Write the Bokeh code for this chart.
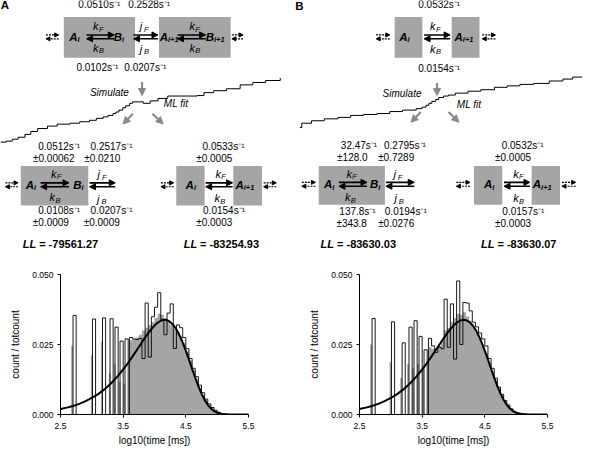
from bokeh.plotting import figure
from bokeh.layouts import column, row
from bokeh.models import Range1d, ColumnDataSource, Arrow, NormalHead, FixedTicker, PrintfTickFormatter
from bokeh.core.properties import value, field
from bokeh.embed import file_html
from bokeh.resources import INLINE

# ---------------- data ----------------
# rate labels of the schemes
rate_top_A = ["0.0510s⁻¹", "0.2528s⁻¹", "0.0102s⁻¹", "0.0207s⁻¹"]
rate_top_B = ["0.0532s⁻¹", "0.0154s⁻¹"]
fit4_A = ["0.0512s⁻¹", "±0.00062", "0.2517s⁻¹", "±0.0210", "0.0108s⁻¹", "±0.0009", "0.0207s⁻¹", "±0.0009"]
fit2_A = ["0.0533s⁻¹", "±0.0005", "0.0154s⁻¹", "±0.0003"]
fit4_B = ["32.47s⁻¹", "±128.0", "0.2795s⁻¹", "±0.7289", "137.8s⁻¹", "±343.8", "0.0194s⁻¹", "±0.0276"]
fit2_B = ["0.0532s⁻¹", "±0.0005", "0.0157s⁻¹", "±0.0003"]
loglik = ["-79561.27", "-83254.93", "-83630.03", "-83630.07"]

# simulated traces (diagram units)
trace_A_x = [2, 8, 14, 20, 27, 33, 40, 50, 60, 73, 83, 93, 100, 107, 112, 117, 120, 123, 127, 130,
             134, 137, 143, 148, 155, 163, 173, 187, 203, 210, 220, 233, 247, 260, 273, 288]
trace_A_y = [148, 147, 145, 143, 140, 137, 134, 131.5, 129.5, 128.5, 127, 125.5, 123.5, 122, 120.5, 118.5,
             117, 115, 112.5, 110.5, 108, 106.5, 106.5, 108, 105.5, 103, 100.5, 100.5, 100, 97, 95, 93,
             89, 86.5, 84.5, 82]
trace_B_x = [308, 310, 320, 333, 347, 360, 373, 387, 400, 413, 427, 433, 437, 440, 443, 447, 450, 455,
             460, 467, 480, 493, 507, 520, 533, 547, 563, 577, 587, 597]
trace_B_y = [133, 128.5, 126, 124, 122.5, 120.5, 119.5, 118.5, 116.5, 115, 113.5, 112, 110, 108, 106,
             104, 102, 100.5, 99.5, 97.5, 95.5, 94, 91.5, 90, 88.5, 87.5, 85, 83, 81, 79.5]

# histograms: log10(time [ms]) bin left edges and count / totcount
bin_w = 0.05
out_A_left = [2.70, 3.01, 3.17, 3.29, 3.37, 3.45, 3.53,
              3.60, 3.65, 3.70, 3.75, 3.80, 3.85, 3.90, 3.95, 4.00, 4.05, 4.10, 4.15, 4.20, 4.25,
              4.30, 4.35, 4.40, 4.45, 4.50, 4.55, 4.60, 4.65, 4.70, 4.75, 4.80, 4.85, 4.90, 4.95, 5.00, 5.05]
out_A_h = [0.0354, 0.0341, 0.0345, 0.0342, 0.0312, 0.0262, 0.0270,
           0.0275, 0.0270, 0.0268, 0.0272, 0.0200, 0.0398, 0.0205, 0.0349, 0.0383, 0.0435, 0.0340,
           0.0285, 0.0362, 0.0395, 0.0236, 0.0320, 0.0310, 0.0275, 0.0235, 0.0200, 0.0165, 0.0135,
           0.0105, 0.0078, 0.0055, 0.0038, 0.0025, 0.0015, 0.0008, 0.0003]
out_B_left = [2.70, 3.01, 3.18, 3.29, 3.37, 3.45, 3.53,
              3.60, 3.65, 3.70, 3.75, 3.80, 3.85, 3.90, 3.95, 4.00, 4.05, 4.10, 4.15, 4.20, 4.25,
              4.30, 4.35, 4.40, 4.45, 4.50, 4.55, 4.60, 4.65, 4.70, 4.75, 4.80, 4.85, 4.90, 4.95, 5.00, 5.05]
out_B_h = [0.0343, 0.0331, 0.0256, 0.0312, 0.0335, 0.0279, 0.0231,
           0.0272, 0.0245, 0.0222, 0.0240, 0.0235, 0.0412, 0.0240, 0.0395, 0.0198, 0.0477, 0.0250,
           0.0400, 0.0398, 0.0370, 0.0330, 0.0313, 0.0291, 0.0270, 0.0245, 0.0200, 0.0165, 0.0130,
           0.0098, 0.0072, 0.0050, 0.0034, 0.0020, 0.0010, 0.0004, 0.0002]

gray_spike_w = 0.03
gray_A_left = [2.67, 2.985, 3.145, 3.27, 3.35, 3.43, 3.505]
gray_A_h = [0.0245, 0.0212, 0.0260, 0.0147, 0.0180, 0.0118, 0.0110]
gray_B_left = [2.67, 2.98, 3.15, 3.26, 3.34, 3.42, 3.50]
gray_B_h = [0.0250, 0.0187, 0.0130, 0.0180, 0.0165, 0.0180, 0.0165]

dense_left = [3.60, 3.65, 3.70, 3.75, 3.80, 3.85, 3.90, 3.95, 4.00, 4.05, 4.10, 4.15, 4.20, 4.25,
              4.30, 4.35, 4.40, 4.45, 4.50, 4.55, 4.60, 4.65, 4.70, 4.75, 4.80, 4.85, 4.90, 4.95, 5.00, 5.05]
gray_A_dense = [0.0265, 0.0270, 0.0275, 0.0285, 0.0300, 0.0310, 0.0320, 0.0330, 0.0345, 0.0360,
                0.0355, 0.0345, 0.0335, 0.0320, 0.0305, 0.0295, 0.0280, 0.0255, 0.0225, 0.0192,
                0.0158, 0.0126, 0.0096, 0.0070, 0.0049, 0.0033, 0.0021, 0.0012, 0.0006, 0.0003]
gray_B_dense = [0.0240, 0.0235, 0.0225, 0.0245, 0.0265, 0.0300, 0.0310, 0.0330, 0.0345, 0.0360,
                0.0355, 0.0365, 0.0350, 0.0335, 0.0310, 0.0290, 0.0270, 0.0245, 0.0220, 0.0185,
                0.0152, 0.0120, 0.0090, 0.0066, 0.0045, 0.0030, 0.0017, 0.0008, 0.0003, 0.0001]

fit_x = [2.5, 2.6, 2.7, 2.8, 2.9, 3.0, 3.1, 3.2, 3.3, 3.4, 3.5, 3.55, 3.6, 3.65, 3.7, 3.75, 3.8, 3.85,
         3.9, 3.95, 4.0, 4.05, 4.1, 4.15, 4.2, 4.25, 4.3, 4.35, 4.4, 4.45, 4.5, 4.55, 4.6, 4.65, 4.7,
         4.75, 4.8, 4.85, 4.9, 4.95, 5.0, 5.1, 5.2, 5.3, 5.4, 5.5]
fit_y = [0.00195, 0.00245, 0.00306, 0.00381, 0.00475, 0.00590, 0.00729, 0.00897, 0.01098, 0.01335,
         0.01607, 0.01756, 0.01912, 0.02075, 0.02242, 0.02413, 0.02582, 0.02748, 0.02906, 0.03051,
         0.03176, 0.03277, 0.03348, 0.03380, 0.03368, 0.03309, 0.03199, 0.03036, 0.02823, 0.02566,
         0.02274, 0.01957, 0.01632, 0.01311, 0.01011, 0.00745, 0.00522, 0.00345, 0.00214, 0.00123,
         0.00066, 0.00014, 0.00002, 0.0, 0.0, 0.0]

x_ticks = [2.5, 3.5, 4.5, 5.5]
y_ticks = [0.0, 0.025, 0.05]

GRAY = "#a5a5a5"
ARROW_GRAY = "#8a8a8a"
FONT = "Liberation Sans"

# ---------------- diagram (top) ----------------
top = figure(width=582, height=258, x_range=Range1d(2, 597), y_range=Range1d(268, 2),
             output_backend="svg", toolbar_location=None, x_axis_type=None, y_axis_type=None,
             min_border=0)
top.outline_line_color = None
top.grid.visible = False

boxes = dict(l=[66.7, 164, 405, 463.3, 22.7, 181.7, 240, 327.3, 486, 545],
             r=[139.5, 237.3, 433.3, 491.7, 91.7, 210.7, 269.3, 395, 515, 574],
             t=[19, 19, 19, 19, 172.7, 172.7, 172.7, 172.7, 172.7, 172.7],
             b=[61, 61, 61, 61, 213.3, 213.3, 213.3, 212.7, 212.7, 212.7])
top.quad(left="l", right="r", top="t", bottom="b", source=ColumnDataSource(boxes),
         fill_color=GRAY, line_color=None)

top.step(trace_A_x, trace_A_y, mode="after", line_color="black", line_width=1)
top.step(trace_B_x, trace_B_y, mode="after", line_color="black", line_width=1)

# arrows
main_pairs = [(90, 118.3, 39.5), (138, 163, 39.5), (183, 211.7, 39.5), (435, 461.7, 39.5),
              (43, 72, 192), (93, 119.3, 192), (211.7, 239.3, 192),
              (348, 376.7, 191.5), (396, 425, 191.5), (516.7, 543.3, 191.5)]
edge_pairs = [(48.5, 61.5, 39.5), (238.5, 250, 39.5), (386, 400, 39.5), (494.5, 508, 39.5),
              (7, 20, 192), (166, 179, 192), (271, 284, 192),
              (310, 324, 191.5), (468, 482, 191.5), (576, 590, 191.5)]

def pair_src(pairs):
    d = dict(x0=[], y0=[], x1=[], y1=[])
    for a, b, yc in pairs:
        d["x0"] += [a, b]
        d["x1"] += [b, a]
        d["y0"] += [yc - 2, yc + 2]
        d["y1"] += [yc - 2, yc + 2]
    return ColumnDataSource(d)

top.add_layout(Arrow(end=NormalHead(size=6, fill_color="black", line_color="black"),
                     x_start=field("x0"), y_start=field("y0"), x_end=field("x1"), y_end=field("y1"),
                     source=pair_src(main_pairs), line_color="black", line_width=1.6))
top.add_layout(Arrow(end=NormalHead(size=4, fill_color="black", line_color="black"),
                     x_start=field("x0"), y_start=field("y0"), x_end=field("x1"), y_end=field("y1"),
                     source=pair_src(edge_pairs), line_color="black", line_width=1.2, line_dash="2 1"))

gray_arrows = dict(x0=[146.7, 137.3, 157.3, 448.3, 431.7, 460],
                   y0=[86, 118.7, 118.7, 87, 117, 117],
                   x1=[146.7, 127.3, 168.3, 448.3, 421.7, 470.7],
                   y1=[100, 129.3, 129.3, 100, 127.5, 127.5])
top.add_layout(Arrow(end=NormalHead(size=7, fill_color=ARROW_GRAY, line_color=ARROW_GRAY),
                     x_start=field("x0"), y_start=field("y0"), x_end=field("x1"), y_end=field("y1"),
                     source=ColumnDataSource(gray_arrows), line_color=ARROW_GRAY, line_width=2.2))

# texts
T = dict(x=[], y=[], text=[], size=[], style=[], align=[])

def txt(x, y, s, size="10px", style="normal", align="center"):
    T["x"].append(x); T["y"].append(y); T["text"].append(s)
    T["size"].append(size); T["style"].append(style); T["align"].append(align)

def state(x, y, letter, sub):
    txt(x, y, letter, "11.5px", "bold italic", "center")
    txt(x + 4.2, y + 3, sub, "7.5px", "bold italic", "left")

def rate(x, y, letter, sub):
    txt(x, y, letter, "11px", "italic", "center")
    txt(x + 3.2, y + 3, sub, "7.5px", "italic", "left")

txt(6.5, 7, "A", "11.5px", "bold")
txt(307.5, 7.5, "B", "11.5px", "bold")

# top A
state(76.5, 39.5, "A", "i"); state(122, 39.5, "B", "i")
state(169, 39.5, "A", "i+1"); state(216, 39.5, "B", "i+1")
rate(99.5, 28.5, "k", "F"); rate(99.5, 51, "k", "B")
rate(145.5, 28.5, "j", "F"); rate(145.5, 52, "j", "B")
rate(198, 28.5, "k", "F"); rate(198, 51, "k", "B")
txt(103, 6.5, rate_top_A[0]); txt(154, 6.5, rate_top_A[1])
txt(101, 71.5, rate_top_A[2]); txt(150, 71.5, rate_top_A[3])
txt(113.3, 97, "Simulate", "10px", "italic"); txt(181.5, 108, "ML fit", "10px", "italic")

# top B
state(414, 39.5, "A", "i"); state(470.5, 39.5, "A", "i+1")
rate(444, 28.5, "k", "F"); rate(444, 52, "k", "B")
txt(450.5, 6.5, rate_top_B[0]); txt(450.5, 72, rate_top_B[1])
txt(412.5, 98, "Simulate", "10px", "italic"); txt(481, 109, "ML fit", "10px", "italic")

# middle A, four-state fit
state(32, 192, "A", "i"); state(80.5, 192, "B", "i")
rate(56.5, 180.5, "k", "F"); rate(55, 205, "k", "B")
rate(102.5, 181, "j", "F"); rate(102, 206.5, "j", "B")
txt(62, 153, fit4_A[0]); txt(56.5, 165, fit4_A[1])
txt(115.5, 153, fit4_A[2]); txt(106, 165, fit4_A[3])
txt(62, 219, fit4_A[4]); txt(53.5, 231, fit4_A[5])
txt(115.5, 219, fit4_A[6]); txt(105.5, 231, fit4_A[7])
# middle A, two-state fit
state(195.5, 192, "A", "i"); state(246.5, 192, "A", "i+1")
rate(224.5, 180.5, "k", "F"); rate(223.5, 206, "k", "B")
txt(230, 153, fit2_A[0]); txt(220.5, 165, fit2_A[1])
txt(230.5, 219, fit2_A[2]); txt(220.5, 231, fit2_A[3])

# middle B, four-state fit
state(337, 191.5, "A", "i"); state(384, 191.5, "B", "i")
rate(358.5, 180.5, "k", "F"); rate(357, 205, "k", "B")
rate(405, 181, "j", "F"); rate(406, 206, "j", "B")
txt(368.5, 152, fit4_B[0]); txt(361.7, 164, fit4_B[1])
txt(415.5, 152, fit4_B[2]); txt(406.5, 164, fit4_B[3])
txt(367, 220, fit4_B[4]); txt(361, 232, fit4_B[5])
txt(416.3, 220, fit4_B[6]); txt(406.5, 232, fit4_B[7])
# middle B, two-state fit
state(500.5, 191.5, "A", "i"); state(550.5, 191.5, "A", "i+1")
rate(529, 180.5, "k", "F"); rate(529, 206, "k", "B")
txt(535.8, 152, fit2_B[0]); txt(526, 164, fit2_B[1])
txt(536.5, 220, fit2_B[2]); txt(526, 232, fit2_B[3])

for xr, v in zip([38.5, 203, 343, 507], loglik):
    txt(xr, 253, "LL", "11px", "bold italic", "right")
    txt(xr + 3, 253, "= " + v, "11px", "bold", "left")

top.text(x="x", y="y", text="text", source=ColumnDataSource(T), text_font=value(FONT),
         text_font_size=field("size"), text_font_style=field("style"), text_align=field("align"),
         text_baseline="middle", text_color="black")

# ---------------- histograms ----------------
def outline_path(lefts, heights, w):
    xs, ys = [], []
    prev_r = None
    for l, h in zip(lefts, heights):
        r = l + w
        if prev_r is None or abs(l - prev_r) > 1e-6:
            if prev_r is not None:
                xs.append(prev_r); ys.append(0)
            xs.append(l); ys.append(0)
        xs += [l, r]; ys += [h, h]
        prev_r = r
    xs.append(prev_r); ys.append(0)
    return xs, ys

def hist_fig(g_left, g_h, d_h, o_left, o_h, bl, br):
    p = figure(frame_width=188, frame_height=140, x_range=Range1d(2.5, 5.5), y_range=Range1d(0, 0.05),
               output_backend="svg", toolbar_location=None,
               min_border_left=bl, min_border_right=br, min_border_top=16, min_border_bottom=35)
    p.outline_line_color = None
    p.grid.visible = False
    p.quad(left=g_left, right=[v + gray_spike_w for v in g_left], top=g_h, bottom=0,
           fill_color=GRAY, line_color=None)
    gx, gy = outline_path(dense_left, d_h, bin_w)
    p.patch(gx, gy, fill_color=GRAY, line_color=None)
    xs, ys = outline_path(o_left, o_h, bin_w)
    p.line(xs, ys, line_color="black", line_width=0.9)
    p.line(fit_x, fit_y, line_color="black", line_width=2)
    p.xaxis.ticker = FixedTicker(ticks=x_ticks)
    p.yaxis.ticker = FixedTicker(ticks=y_ticks)
    p.xaxis.formatter = PrintfTickFormatter(format="%.1f")
    p.yaxis.formatter = PrintfTickFormatter(format="%.3f")
    p.xaxis.axis_label = "log10(time [ms])"
    p.yaxis.axis_label = "count / totcount"
    for ax in (p.xaxis, p.yaxis):
        ax.axis_line_color = "black"
        ax.major_tick_line_color = "black"
        ax.major_tick_out = 3
        ax.major_tick_in = 0
        ax.minor_tick_line_color = None
        ax.major_label_text_font = FONT
        ax.major_label_text_font_size = "8.5px"
        ax.major_label_text_color = "black"
        ax.axis_label_text_font = FONT
        ax.axis_label_text_font_size = "10px"
        ax.axis_label_text_font_style = "normal"
        ax.axis_label_text_color = "black"
    p.xaxis.major_label_standoff = 5
    p.xaxis.axis_label_standoff = 3
    p.yaxis.major_label_standoff = 4
    p.yaxis.axis_label_standoff = 8
    return p

hA = hist_fig(gray_A_left, gray_A_h, gray_A_dense, out_A_left, out_A_h, 60, 43)
hB = hist_fig(gray_B_left, gray_B_h, gray_B_dense, out_B_left, out_B_h, 68, 35)

layout = column(top, row(hA, hB, spacing=0), spacing=0)
open("out.html", "w").write(file_html(layout, INLINE))
